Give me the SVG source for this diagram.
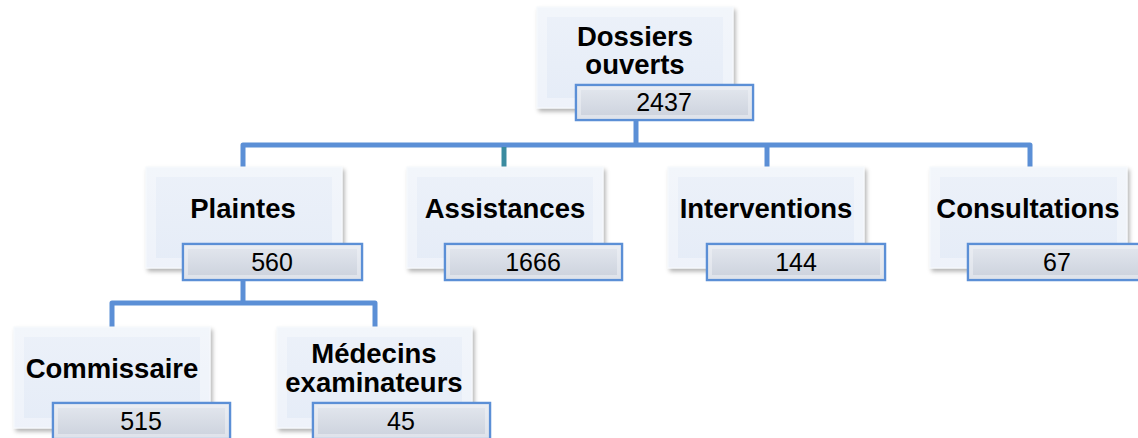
<svg xmlns="http://www.w3.org/2000/svg" width="1138" height="438" viewBox="0 0 1138 438">
<defs>
<linearGradient id="gBox" x1="0" y1="0" x2="0" y2="1">
<stop offset="0" stop-color="#ecf1f9"/>
<stop offset="1" stop-color="#e5ecf7"/>
</linearGradient>
<linearGradient id="gVal" x1="0" y1="0" x2="0" y2="1">
<stop offset="0" stop-color="#e4e8ef"/>
<stop offset="1" stop-color="#cbd1dc"/>
</linearGradient>
<filter id="sh" x="-10%" y="-10%" width="125%" height="130%">
<feDropShadow dx="2" dy="3" stdDeviation="2" flood-color="#000" flood-opacity="0.3"/>
</filter>
</defs>
<style>
.box{fill:url(#gBox);stroke:#f4f7fc;stroke-width:1;filter:url(#sh)}
.bev{fill:none;stroke:#ffffff;stroke-width:10;stroke-opacity:0.35}
.val{fill:url(#gVal);stroke:#5b8fd6;stroke-width:2.5}
.vbev{fill:none;stroke:#f2f4f8;stroke-width:4;stroke-opacity:0.5}
.lbl{font-family:"Liberation Sans",Arial,sans-serif;font-weight:bold;font-size:27.5px;fill:#000;text-anchor:middle}
.num{font-family:"Liberation Sans",Arial,sans-serif;font-size:25px;fill:#000;text-anchor:middle}
.c{fill:none;stroke:#5b8fd6;stroke-width:5;stroke-linejoin:round}
</style>
<g id="connectors">
<path class="c" d="M636 120 V145"/>
<path class="c" d="M243 167 V145 H1030 V167"/>
<path class="c" d="M767 145 V167"/>
<path d="M504 147 V167" fill="none" stroke="#3a8ba0" stroke-width="5"/>
<path class="c" d="M243 280 V303"/>
<path class="c" d="M112 327 V303 H375 V327"/>
</g>
<g id="dossiers">
<rect class="box" x="537" y="7" width="196" height="101"/>
<rect class="bev" x="542" y="12" width="186" height="91"/>
<text class="lbl" x="635" y="46">Dossiers</text>
<text class="lbl" x="635" y="74">ouverts</text>
<rect class="val" x="576" y="85" width="177" height="35"/>
<rect class="vbev" x="579" y="88" width="171" height="29"/>
<text class="num" x="664" y="111">2437</text>
</g>
<g id="plaintes">
<rect class="box" x="146" y="167" width="196" height="101"/>
<rect class="bev" x="151" y="172" width="186" height="91"/>
<text class="lbl" x="243" y="218">Plaintes</text>
<rect class="val" x="183" y="244" width="179" height="36"/>
<rect class="vbev" x="186" y="247" width="173" height="30"/>
<text class="num" x="272" y="271">560</text>
</g>
<g id="assistances">
<rect class="box" x="407" y="167" width="196" height="101"/>
<rect class="bev" x="412" y="172" width="186" height="91"/>
<text class="lbl" x="505" y="218">Assistances</text>
<rect class="val" x="445" y="244" width="177" height="36"/>
<rect class="vbev" x="448" y="247" width="171" height="30"/>
<text class="num" x="533" y="271">1666</text>
</g>
<g id="interventions">
<rect class="box" x="668" y="167" width="196" height="101"/>
<rect class="bev" x="673" y="172" width="186" height="91"/>
<text class="lbl" x="766" y="218">Interventions</text>
<rect class="val" x="707" y="244" width="178" height="36"/>
<rect class="vbev" x="710" y="247" width="172" height="30"/>
<text class="num" x="796" y="271">144</text>
</g>
<g id="consultations">
<rect class="box" x="930" y="167" width="197" height="101"/>
<rect class="bev" x="935" y="172" width="187" height="91"/>
<text class="lbl" x="1028" y="218">Consultations</text>
<rect class="val" x="968" y="244" width="178" height="36"/>
<rect class="vbev" x="971" y="247" width="172" height="30"/>
<text class="num" x="1057" y="271">67</text>
</g>
<g id="commissaire">
<rect class="box" x="14" y="327" width="196" height="101"/>
<rect class="bev" x="19" y="332" width="186" height="91"/>
<text class="lbl" x="112" y="378">Commissaire</text>
<rect class="val" x="53" y="403" width="177" height="36"/>
<rect class="vbev" x="56" y="406" width="171" height="30"/>
<text class="num" x="141" y="430">515</text>
</g>
<g id="medecins">
<rect class="box" x="277" y="327" width="195" height="101"/>
<rect class="bev" x="282" y="332" width="185" height="91"/>
<text class="lbl" x="374" y="363">Médecins</text>
<text class="lbl" x="374" y="392">examinateurs</text>
<rect class="val" x="313" y="403" width="177" height="36"/>
<rect class="vbev" x="316" y="406" width="171" height="30"/>
<text class="num" x="401" y="430">45</text>
</g>
</svg>
